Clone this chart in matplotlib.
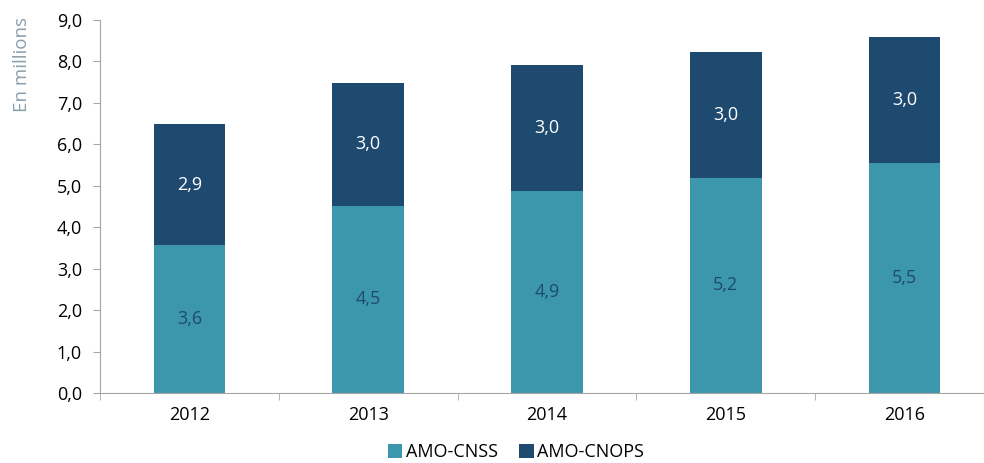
import matplotlib.pyplot as plt
import numpy as np

plt.rcParams['font.family'] = ['Open Sans', 'DejaVu Sans']
plt.rcParams['font.weight'] = 'medium'

years = ['2012', '2013', '2014', '2015', '2016']
amo_cnss = [3.56, 4.52, 4.88, 5.19, 5.54]
amo_cnops = [2.94, 2.97, 3.04, 3.04, 3.04]

c_cnss = '#3d97ac'
c_cnops = '#1f4a70'

fig = plt.figure(figsize=(9.84, 4.63), dpi=100)
ax = fig.add_axes([100 / 984, 70 / 463, 884 / 984, 373 / 463])

x = np.arange(len(years))
w = 0.40
b1 = ax.bar(x, amo_cnss, w, color=c_cnss, label='AMO-CNSS')
b2 = ax.bar(x, amo_cnops, w, bottom=amo_cnss, color=c_cnops, label='AMO-CNOPS')

def fmt(v):
    return f'{v:.1f}'.replace('.', ',')

for xi, a, b in zip(x, amo_cnss, amo_cnops):
    ax.text(xi, a / 2, fmt(a), ha='center', va='center', color=c_cnops, fontsize=13)
    ax.text(xi, a + b / 2, fmt(b), ha='center', va='center', color='white', fontsize=13)

ax.set_ylim(0, 9)
ax.set_yticks(np.arange(0, 10, 1))
ax.set_yticklabels([fmt(v) for v in np.arange(0, 10, 1)], fontsize=13)
ax.set_xlim(-0.5, 4.5 - 10 / 179)
ax.set_xticks(x)
ax.set_xticklabels(years, fontsize=13)
ax.set_xticks(np.arange(-0.5, 4.5, 1), minor=True)
ax.tick_params(axis='x', which='major', length=0, pad=9)
ax.tick_params(axis='x', which='minor', length=5, color='#a6a6a6')
ax.tick_params(axis='y', length=5, color='#a6a6a6', pad=8)

for s in ['top', 'right']:
    ax.spines[s].set_visible(False)
for s in ['left', 'bottom']:
    ax.spines[s].set_color('#a6a6a6')

fig.text(22 / 984, 1 - 65 / 463, 'En millions', rotation=90, ha='center', va='center',
         color='#8a9eab', fontsize=13.5)

fig.legend(handles=[b1, b2], loc='center', bbox_to_anchor=(516 / 984, 1 - 452 / 463),
           ncol=2, frameon=False, fontsize=13, handlelength=0.8, handleheight=0.8,
           handletextpad=0.2, columnspacing=1.2)

fig.savefig('out.png', dpi=100)
